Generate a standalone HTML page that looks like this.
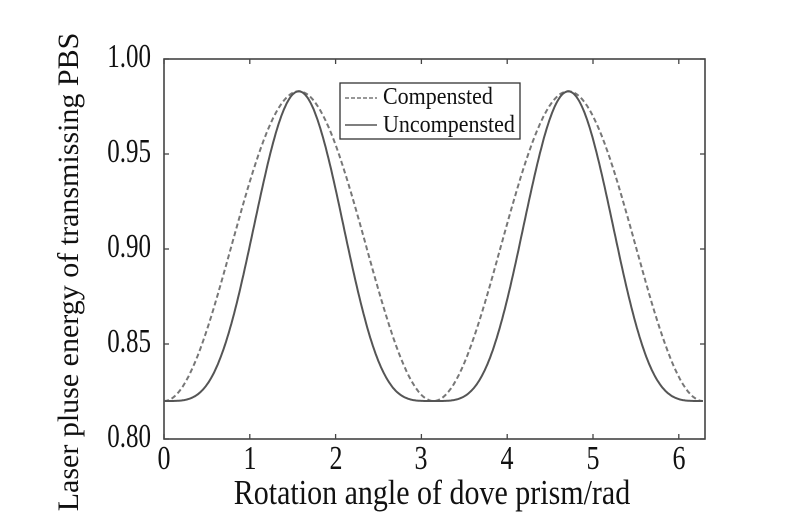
<!DOCTYPE html>
<html><head><meta charset="utf-8"><style>
body{margin:0;background:#fff;}
svg{position:absolute;left:0;top:0}
svg text{font-family:"Liberation Serif",serif;fill:#111;}
</style></head><body>
<svg id="s" width="800" height="523" xmlns="http://www.w3.org/2000/svg">
<rect x="164" y="59" width="541" height="380" fill="none" stroke="#444" stroke-width="1.6"/>
<g id="ticks" stroke="#444" stroke-width="1.3"></g>
<g font-size="25" text-anchor="end">
<text transform="translate(151,447) scale(1,1.35)">0.80</text>
<text transform="translate(151,352) scale(1,1.35)">0.85</text>
<text transform="translate(151,257) scale(1,1.35)">0.90</text>
<text transform="translate(151,162) scale(1,1.35)">0.95</text>
<text transform="translate(151,67) scale(1,1.35)">1.00</text>
</g>
<g font-size="26" text-anchor="middle">
<text transform="translate(164,469) scale(1,1.3)">0</text>
<text transform="translate(250,469) scale(1,1.3)">1</text>
<text transform="translate(336,469) scale(1,1.3)">2</text>
<text transform="translate(421,469) scale(1,1.3)">3</text>
<text transform="translate(507,469) scale(1,1.3)">4</text>
<text transform="translate(593,469) scale(1,1.3)">5</text>
<text transform="translate(679,469) scale(1,1.3)">6</text>
</g>
<text transform="translate(432,504) scale(1,1.15)" font-size="30" text-anchor="middle">Rotation angle of dove prism/rad</text>
<text transform="translate(78,272) rotate(-90)" font-size="30" text-anchor="middle">Laser pluse energy of transmissing PBS</text>
<path id="c" fill="none" stroke="#777" stroke-width="2" stroke-dasharray="5,3"/>
<path id="u" fill="none" stroke="#555" stroke-width="2"/>
<rect x="340" y="83" width="180" height="56" fill="#fff" stroke="#333" stroke-width="1.3"/>
<line x1="345" y1="98" x2="377" y2="98" stroke="#777" stroke-width="1.5" stroke-dasharray="4,2"/>
<line x1="345" y1="125" x2="377" y2="125" stroke="#555" stroke-width="1.5"/>
<text transform="translate(383,104) scale(1,1.1)" font-size="22">Compensted</text>
<text transform="translate(383,132) scale(1,1.1)" font-size="22">Uncompensted</text>
</svg>
<script>
var X=function(v){return 164+v*85.8;},Y=function(v){return 439-(v-0.8)*1900;};
var c="",u="";
for(var i=0;i<=400;i++){var x=i/400*2*Math.PI*0.9997;var s=Math.sin(x);
var yc=0.82+0.163*s*s, yu=0.82+0.163*s*s*s*s;
c+=(i?"L":"M")+X(x).toFixed(1)+","+Y(yc).toFixed(1);
u+=(i?"L":"M")+X(x).toFixed(1)+","+Y(yu).toFixed(1);}
document.getElementById("c").setAttribute("d",c);
document.getElementById("u").setAttribute("d",u);
var t="";
for(var k=0;k<=6;k++){var px=X(k);t+='<line x1="'+px+'" y1="439" x2="'+px+'" y2="434"/><line x1="'+px+'" y1="59" x2="'+px+'" y2="64"/>';}
for(var j=0;j<5;j++){var py=439-j*95;t+='<line x1="164" y1="'+py+'" x2="169" y2="'+py+'"/><line x1="705" y1="'+py+'" x2="700" y2="'+py+'"/>';}
document.getElementById("ticks").innerHTML=t;
</script>
</body></html>
